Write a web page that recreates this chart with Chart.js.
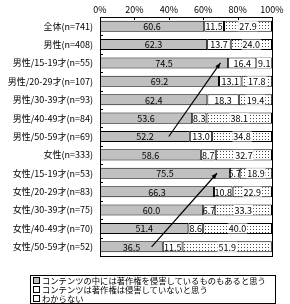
<!DOCTYPE html>
<html>
<head>
<meta charset="utf-8">
<script src="https://cdn.jsdelivr.net/npm/chart.js@4/dist/chart.umd.min.js"></script>
<style>
  html, body { margin: 0; padding: 0; background: #fff; }
  #wrap { position: relative; width: 290px; height: 304px; }
  #legend {
    position: absolute; left: 30px; top: 275px; width: 246px; height: 29px;
    border: 1px solid #000; background: #fff;
    font: 8.3px "Noto Sans CJK JP", sans-serif; color: #000;
    padding: 0 0 0 2px; box-sizing: border-box;
  }
  #legend div { white-space: nowrap; height: 9px; line-height: 9px; display: flex; align-items: center; }
  #legend span.box {
    display: inline-block; width: 5px; height: 5px; border: 1px solid #000;
    margin-right: 2px; flex: none;
  }
</style>
</head>
<body>
<div id="wrap">
  <canvas id="chart" width="290" height="304"></canvas>
  <div id="legend"></div>
</div>
<script>
const categories = [
  "全体(n=741)", "男性(n=408)", "男性/15-19才(n=55)", "男性/20-29才(n=107)",
  "男性/30-39才(n=93)", "男性/40-49才(n=84)", "男性/50-59才(n=69)",
  "女性(n=333)", "女性/15-19才(n=53)", "女性/20-29才(n=83)",
  "女性/30-39才(n=75)", "女性/40-49才(n=70)", "女性/50-59才(n=52)"
];
const seriesNames = [
  "コンテンツの中には著作権を侵害しているものもあると思う",
  "コンテンツは著作権は侵害していないと思う",
  "わからない"
];
const infringe = [60.6, 62.3, 74.5, 69.2, 62.4, 53.6, 52.2, 58.6, 75.5, 66.3, 60.0, 51.4, 36.5];
const notInfringe = [11.5, 13.7, 16.4, 13.1, 18.3, 8.3, 13.0, 8.7, 5.7, 10.8, 6.7, 8.6, 11.5];
const unknown = [27.9, 24.0, 9.1, 17.8, 19.4, 38.1, 34.8, 32.7, 18.9, 22.9, 33.3, 40.0, 51.9];
const xTicks = [0, 20, 40, 60, 80, 100];
// arrows: [from category, from value] -> [to category, to value]
const arrows = [
  [[6, 40], [2, 70]],
  [[12, 30], [8, 68]]
];

function dotPattern() {
  const c = document.createElement("canvas");
  c.width = 3; c.height = 3;
  const g = c.getContext("2d");
  g.fillStyle = "#fff"; g.fillRect(0, 0, 3, 3);
  g.fillStyle = "#444"; g.fillRect(1, 1, 1, 1);
  return g.createPattern(c, "repeat");
}
const dots = dotPattern();
const fills = ["#c0c0c0", "#ffffff", dots];

const FONT = '"Noto Sans CJK JP", sans-serif';

const framePlugin = {
  id: "frame",
  afterDatasetsDraw(chart) {
    const { ctx, chartArea: a, scales } = chart;
    ctx.save();
    ctx.strokeStyle = "#000";
    ctx.lineWidth = 1;
    ctx.strokeRect(Math.round(a.left) + 0.5, Math.round(a.top) + 0.5,
      Math.round(a.right - a.left), Math.round(a.bottom - a.top));
    // inner tick marks on top axis
    xTicks.forEach(v => {
      const x = Math.round(scales.x.getPixelForValue(v)) + 0.5;
      ctx.beginPath(); ctx.moveTo(x, a.top); ctx.lineTo(x, a.top + 3); ctx.stroke();
    });
    // small category ticks on left
    for (let i = 1; i < categories.length; i++) {
      const y = Math.round((scales.y.getPixelForValue(i - 1) + scales.y.getPixelForValue(i)) / 2) + 0.5;
      ctx.beginPath(); ctx.moveTo(a.left, y); ctx.lineTo(a.left + 3, y); ctx.stroke();
    }
    ctx.restore();
  },
  afterDraw(chart) {
    const { ctx, scales } = chart;
    // value labels
    ctx.save();
    ctx.font = "9px " + FONT;
    ctx.textAlign = "center";
    ctx.textBaseline = "middle";
    chart.data.datasets.forEach((ds, di) => {
      const meta = chart.getDatasetMeta(di);
      meta.data.forEach((bar, i) => {
        const txt = ds.data[i].toFixed(1);
        const cx = (bar.x + bar.base) / 2;
        if (di === 2) {
          const w = ctx.measureText(txt).width + 2;
          ctx.fillStyle = "#fff";
          ctx.fillRect(cx - w / 2, bar.y - 5, w, 10);
        }
        ctx.fillStyle = "#000";
        ctx.fillText(txt, cx, bar.y + 0.5);
      });
    });
    // arrows
    ctx.strokeStyle = "#000";
    ctx.fillStyle = "#000";
    ctx.lineWidth = 1.2;
    arrows.forEach(([from, to]) => {
      const x1 = scales.x.getPixelForValue(from[1]), y1 = scales.y.getPixelForValue(from[0]);
      const x2 = scales.x.getPixelForValue(to[1]), y2 = scales.y.getPixelForValue(to[0]);
      const ang = Math.atan2(y2 - y1, x2 - x1);
      ctx.beginPath(); ctx.moveTo(x1, y1); ctx.lineTo(x2, y2); ctx.stroke();
      ctx.beginPath();
      ctx.moveTo(x2, y2);
      ctx.lineTo(x2 - 6 * Math.cos(ang - 0.4), y2 - 6 * Math.sin(ang - 0.4));
      ctx.lineTo(x2 - 6 * Math.cos(ang + 0.4), y2 - 6 * Math.sin(ang + 0.4));
      ctx.closePath(); ctx.fill();
    });
    ctx.restore();
  }
};

const values = [infringe, notInfringe, unknown];
new Chart(document.getElementById("chart"), {
  type: "bar",
  data: {
    labels: categories,
    datasets: values.map((d, i) => ({
      label: seriesNames[i],
      data: d,
      backgroundColor: fills[i],
      borderColor: "#000",
      borderWidth: 1,
      borderSkipped: false,
      barPercentage: 0.6,
      categoryPercentage: 1
    }))
  },
  options: {
    indexAxis: "y",
    responsive: false,
    animation: false,
    events: [],
    layout: { padding: { top: 0, right: 18, bottom: 48, left: 0 } },
    plugins: { legend: { display: false }, tooltip: { enabled: false } },
    scales: {
      x: {
        position: "top",
        stacked: true,
        min: 0, max: 100,
        afterBuildTicks: s => { s.ticks = xTicks.map(v => ({ value: v })); },
        ticks: { callback: v => v + "%", color: "#000", font: { size: 9, family: FONT }, padding: 2, maxRotation: 0 },
        grid: { display: false, drawTicks: false },
        border: { display: false },
        afterFit: s => { s.height = 17; }
      },
      y: {
        stacked: true,
        ticks: { color: "#000", font: { size: 9, family: FONT }, padding: 7, autoSkip: false },
        grid: { display: false, drawTicks: false },
        border: { display: false },
        afterFit: s => { s.width = 100; }
      }
    }
  },
  plugins: [framePlugin]
});

const legend = document.getElementById("legend");
seriesNames.forEach((name, i) => {
  const row = document.createElement("div");
  const box = document.createElement("span");
  box.className = "box";
  if (i === 2) {
    box.style.backgroundImage = "radial-gradient(#444 30%, transparent 35%)";
    box.style.backgroundSize = "2px 2px";
  } else {
    box.style.background = fills[i];
  }
  row.appendChild(box);
  row.appendChild(document.createTextNode(name));
  legend.appendChild(row);
});
</script>
</body>
</html>
